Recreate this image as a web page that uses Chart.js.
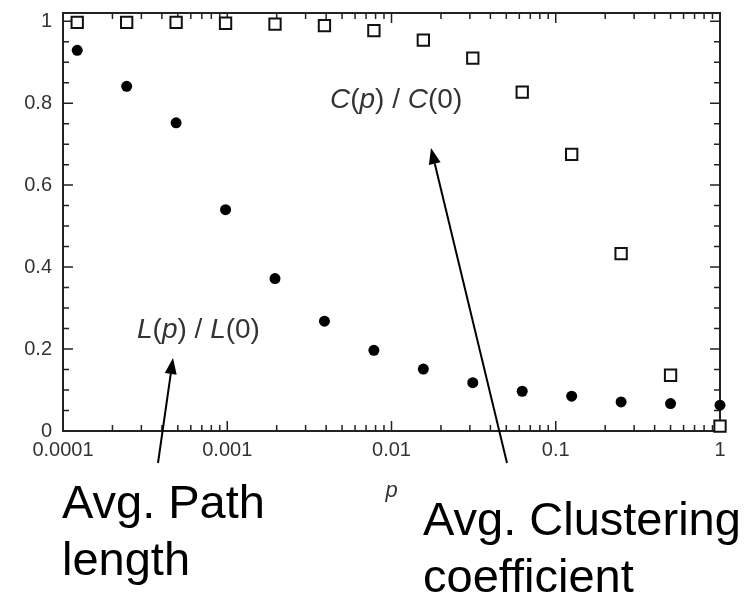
<!DOCTYPE html>
<html>
<head>
<meta charset="utf-8">
<script src="https://cdn.jsdelivr.net/npm/chart.js@4/dist/chart.umd.min.js"></script>
<style>
html,body{margin:0;padding:0;background:#fff;}
#wrap{width:756px;height:596px;}
</style>
</head>
<body>
<div id="wrap"><canvas id="c" width="756" height="596"></canvas></div>
<script>
// rewiring probability p (x values)
const pValues = [1, 0.5, 0.25, 0.125, 0.0625, 0.03125, 0.015625, 0.0078125, 0.00390625, 0.001953125, 0.0009765625, 0.00048828125, 0.000244140625, 0.0001220703125];
// L(p)/L(0) : filled circles
const pathValues = [0.063, 0.067, 0.071, 0.085, 0.097, 0.118, 0.151, 0.197, 0.268, 0.372, 0.540, 0.752, 0.841, 0.929];
// C(p)/C(0) : open squares
const clusterValues = [0.012, 0.136, 0.433, 0.675, 0.827, 0.910, 0.954, 0.977, 0.989, 0.993, 0.995, 0.997, 0.997, 0.997];

// tick values and labels
const xMajorTicks = [0.0001, 0.001, 0.01, 0.1, 1];
const xTickLabels = ['0.0001', '0.001', '0.01', '0.1', '1'];
const xMinorTicks = [0.0002,0.0003,0.0004,0.0005,0.0006,0.0007,0.0008,0.0009,
                     0.002,0.003,0.004,0.005,0.006,0.007,0.008,0.009,
                     0.02,0.03,0.04,0.05,0.06,0.07,0.08,0.09,
                     0.2,0.3,0.4,0.5,0.6,0.7,0.8,0.9];
const yMajorTicks = [0, 0.2, 0.4, 0.6, 0.8, 1];
const yTickLabels = ['0', '0.2', '0.4', '0.6', '0.8', '1'];
const yMinorTicks = [0.05,0.1,0.15,0.25,0.3,0.35,0.45,0.5,0.55,0.65,0.7,0.75,0.85,0.9,0.95];

const FONT = "'Liberation Sans', Arial, Helvetica, sans-serif";

function drawRich(ctx, parts, x, y, size, color) {
  ctx.save();
  ctx.fillStyle = color;
  ctx.textBaseline = 'alphabetic';
  ctx.textAlign = 'left';
  let cx = x;
  for (const [txt, italic] of parts) {
    ctx.font = (italic ? 'italic ' : '') + size + 'px ' + FONT;
    ctx.fillText(txt, cx, y);
    cx += ctx.measureText(txt).width;
  }
  ctx.restore();
}

function arrow(ctx, x1, y1, x2, y2) {
  const ang = Math.atan2(y2 - y1, x2 - x1);
  const hl = 16, hw = 6;
  const bx = x2 - hl * Math.cos(ang), by = y2 - hl * Math.sin(ang);
  ctx.save();
  ctx.strokeStyle = '#000';
  ctx.fillStyle = '#000';
  ctx.lineWidth = 2;
  ctx.beginPath();
  ctx.moveTo(x1, y1);
  ctx.lineTo(bx, by);
  ctx.stroke();
  ctx.beginPath();
  ctx.moveTo(x2, y2);
  ctx.lineTo(bx + hw * Math.sin(ang), by - hw * Math.cos(ang));
  ctx.lineTo(bx - hw * Math.sin(ang), by + hw * Math.cos(ang));
  ctx.closePath();
  ctx.fill();
  ctx.restore();
}

const framePlugin = {
  id: 'frame',
  beforeDatasetsDraw(chart) {
    const {ctx, chartArea: a, scales: {x, y}} = chart;
    ctx.save();
    ctx.strokeStyle = '#222';
    ctx.lineWidth = 1.5;
    ctx.beginPath();
    const tick = (px, py, dx, dy) => { ctx.moveTo(px, py); ctx.lineTo(px + dx, py + dy); };
    xMajorTicks.forEach(v => { const px = x.getPixelForValue(v); tick(px, a.bottom, 0, -10); tick(px, a.top, 0, 10); });
    xMinorTicks.forEach(v => { const px = x.getPixelForValue(v); tick(px, a.bottom, 0, -6); tick(px, a.top, 0, 6); });
    yMajorTicks.forEach(v => { const py = y.getPixelForValue(v); tick(a.left, py, 10, 0); tick(a.right, py, -10, 0); });
    yMinorTicks.forEach(v => { const py = y.getPixelForValue(v); tick(a.left, py, 6, 0); tick(a.right, py, -6, 0); });
    ctx.stroke();
    ctx.lineWidth = 2;
    ctx.strokeRect(a.left, a.top, a.right - a.left, a.bottom - a.top);
    ctx.restore();
  },
  afterDraw(chart) {
    const ctx = chart.ctx;
    const {chartArea: a} = chart;
    // curve labels
    drawRich(ctx, [['C', true], ['(', false], ['p', true], [') / ', false], ['C', true], ['(0)', false]], 330, 108, 28, '#333');
    drawRich(ctx, [['L', true], ['(', false], ['p', true], [') / ', false], ['L', true], ['(0)', false]], 137, 338, 28, '#333');
    // axis title, centred under the axis
    ctx.save();
    ctx.font = 'italic 22px ' + FONT;
    ctx.fillStyle = '#333';
    ctx.textAlign = 'center';
    ctx.textBaseline = 'alphabetic';
    ctx.fillText('p', (a.left + a.right) / 2, 497);
    ctx.restore();
    // arrows
    arrow(ctx, 158, 463, 173, 358);
    arrow(ctx, 507, 463, 431, 148);
    // captions
    ctx.save();
    ctx.fillStyle = '#000';
    ctx.textAlign = 'left';
    ctx.textBaseline = 'alphabetic';
    ctx.font = '47px ' + FONT;
    ctx.fillText('Avg. Path', 62, 518);
    ctx.fillText('length', 62, 575);
    ctx.fillText('Avg. Clustering', 423, 535);
    ctx.fillText('coefficient', 423, 592);
    ctx.restore();
  }
};

const chart = new Chart(document.getElementById('c'), {
  type: 'scatter',
  data: {
    datasets: [
      {
        label: 'L(p)/L(0)',
        data: pValues.map((p, i) => ({x: p, y: pathValues[i]})),
        pointStyle: 'circle',
        pointRadius: 5.5,
        backgroundColor: '#000',
        borderColor: '#000',
        borderWidth: 0,
        clip: false
      },
      {
        label: 'C(p)/C(0)',
        data: pValues.map((p, i) => ({x: p, y: clusterValues[i]})),
        pointStyle: 'rect',
        pointRadius: 8,
        backgroundColor: '#fff',
        borderColor: '#111',
        borderWidth: 2,
        clip: false
      }
    ]
  },
  options: {
    responsive: false,
    animation: false,
    events: [],
    layout: {padding: {top: 13, right: 36, left: 0, bottom: 0}},
    plugins: {legend: {display: false}, tooltip: {enabled: false}},
    scales: {
      x: {
        type: 'logarithmic',
        min: 0.0001,
        max: 1,
        grid: {display: false, drawTicks: false},
        border: {display: false},
        afterBuildTicks: s => { s.ticks = xMajorTicks.map(v => ({value: v})); },
        afterFit: s => { s.height = 165; s.paddingLeft = 0; s.paddingRight = 0; },
        ticks: {
          autoSkip: false,
          maxRotation: 0,
          padding: 7,
          color: '#333',
          font: {family: FONT, size: 20},
          callback: (v) => { const i = xMajorTicks.findIndex(t => Math.abs(Math.log10(t) - Math.log10(v)) < 1e-6); return i >= 0 ? xTickLabels[i] : ''; }
        }
      },
      y: {
        type: 'linear',
        min: 0,
        max: 1.02,
        grid: {display: false, drawTicks: false},
        border: {display: false},
        afterBuildTicks: s => { s.ticks = yMajorTicks.map(v => ({value: v})); },
        afterFit: s => { s.width = 63; s.paddingTop = 0; s.paddingBottom = 0; },
        ticks: {
          autoSkip: false,
          padding: 11,
          color: '#333',
          font: {family: FONT, size: 20},
          callback: (v) => { const i = yMajorTicks.findIndex(t => Math.abs(t - v) < 1e-6); return i >= 0 ? yTickLabels[i] : ''; }
        }
      }
    }
  },
  plugins: [framePlugin]
});
</script>
</body>
</html>
